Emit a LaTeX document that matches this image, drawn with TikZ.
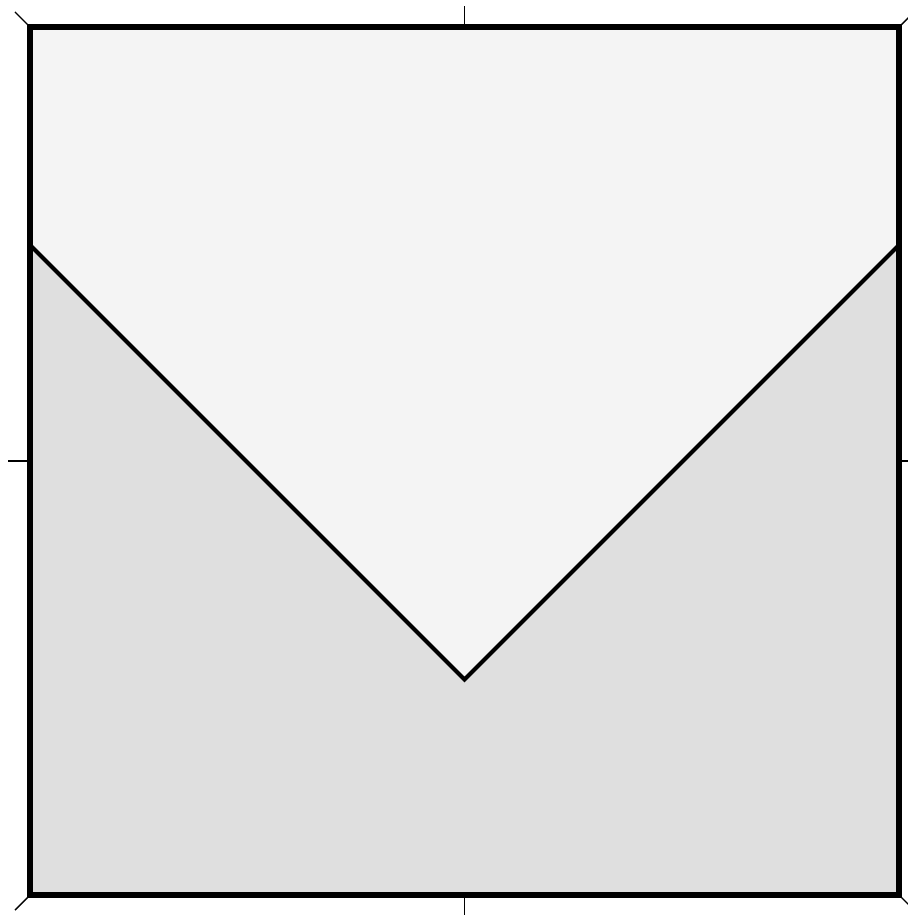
\documentclass[tikz,border=0pt]{standalone}
\usetikzlibrary{calc}
\definecolor{upfill}{gray}{0.955}
\definecolor{lowfill}{gray}{0.875}

\begin{document}
\begin{tikzpicture}[x=0.02cm, y=-0.02cm,
  frame/.style={line width=3.1pt, line join=miter},
  vline/.style={line width=2.3pt, line join=miter},
  tick/.style={line width=0.8pt}]
\useasboundingbox (0,0) rectangle (907,915);
\coordinate (nw) at (30,27);
\coordinate (ne) at (899,27);
\coordinate (sw) at (30,895);
\coordinate (se) at (899,895);
\coordinate (lv) at (30,245);
\coordinate (rv) at (899,245);
\coordinate (bot) at (464.5,679.5);
% panels
\fill[lowfill] (nw) rectangle (se);
\fill[upfill] (nw) -- (lv) -- (bot) -- (rv) -- (ne) -- cycle;
\draw[vline] (lv) -- (bot) -- (rv);
% frame and ticks
\draw[frame] (nw) rectangle (se);
\draw[tick] ($(nw)!0.5!(ne)$) -- ++(0,-21);
\draw[tick] ($(sw)!0.5!(se)$) -- ++(0,21);
\draw[tick] ($(nw)!0.5!(sw)$) -- ++(-22,0);
\draw[tick] ($(ne)!0.5!(se)$) -- ++(22,0);
\draw[tick] (nw) -- ++(-15,-15);
\draw[tick] (ne) -- ++(15,-15);
\draw[tick] (sw) -- ++(-15,15);
\draw[tick] (se) -- ++(15,15);
\end{tikzpicture}
\end{document}
